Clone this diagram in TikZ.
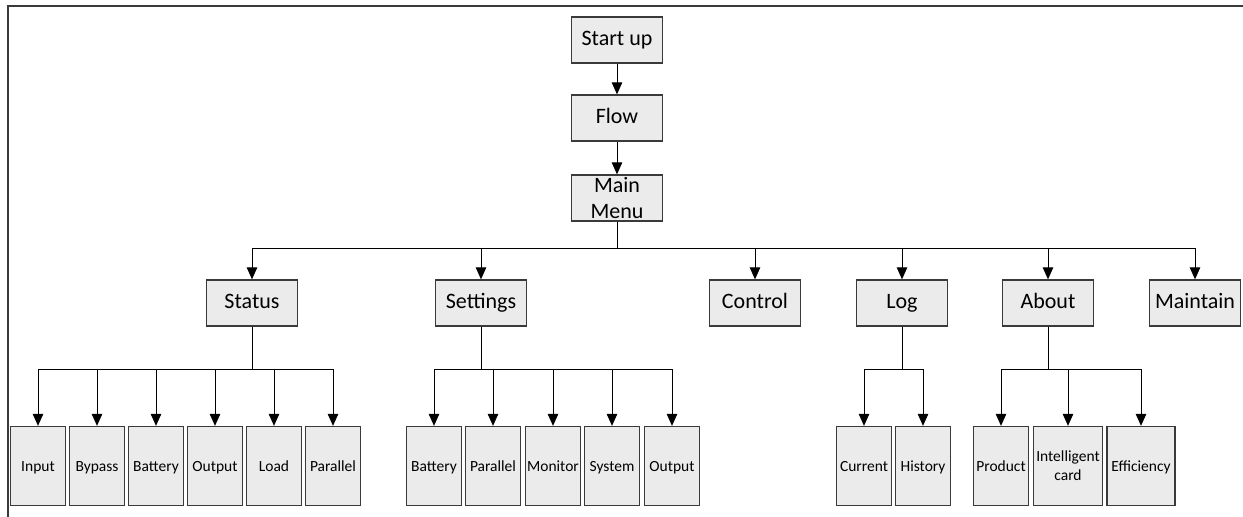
\documentclass[tikz,border=0pt]{standalone}
\usepackage{fontspec}
\setmainfont{Carlito}
\usetikzlibrary{arrows.meta}
\definecolor{boxfill}{HTML}{EBEBEB}
\definecolor{boxline}{HTML}{3A3A3A}
\tikzset{
  x=1pt, y=-1pt,
  lvlbase/.style={draw=boxline, line width=1.3pt, fill=boxfill, minimum width=91pt, minimum height=46pt, inner sep=0pt, font=\fontsize{22}{26}\selectfont, align=center},
  lvl/.style={lvlbase, text height=16pt, text depth=5pt},
  leafbase/.style={draw=boxline, line width=1.3pt, fill=boxfill, minimum width=55pt, minimum height=79pt, inner sep=0pt, font=\fontsize{15.5}{19}\selectfont, align=center},
  leaf/.style={leafbase, text height=13pt, text depth=1.5pt},
  conn/.style={line width=1pt, black},
  arr/.style={conn, -{Triangle[length=12pt, width=10.5pt]}},
}
\begin{document}
\begin{tikzpicture}
\useasboundingbox (0,0) rectangle (1243,517);
\draw[line width=2pt, boxline] (8,517) -- (8,6) -- (1243,6);
% top chain
\node[lvl] (start) at (617,40) {Start up};
\node[lvl] (flow) at (617,118) {Flow};
\node[lvlbase] (main) at (617,198) {Main\\Menu};
\draw[arr] (start) -- (flow);
\draw[arr] (flow) -- (main);
% level 2
\node[lvl] (status) at (252,303) {Status};
\node[lvl] (settings) at (481,303) {Settings};
\node[lvl] (control) at (755,303) {Control};
\node[lvl] (log) at (902,303) {Log};
\node[lvl] (about) at (1048,303) {About};
\node[lvl] (maintain) at (1195,303) {Maintain};
\coordinate (bus1) at (617,248);
\draw[conn] (main.south) -- (bus1);
\draw[conn] (status.north |- bus1) -- (maintain.north |- bus1);
\foreach \n in {status,settings,control,log,about,maintain}
  \draw[arr] (\n.north |- bus1) -- (\n.north);
% status leaves
\node[leaf] (s1) at (38,466) {Input};
\node[leaf] (s2) at (97,466) {Bypass};
\node[leaf] (s3) at (156,466) {Battery};
\node[leaf] (s4) at (215,466) {Output};
\node[leaf] (s5) at (274,466) {Load};
\node[leaf] (s6) at (333,466) {Parallel};
\coordinate (bs) at (252,369);
\draw[conn] (status.south) -- (bs);
\draw[conn] (s1.north |- bs) -- (s6.north |- bs);
\foreach \n in {s1,s2,s3,s4,s5,s6}
  \draw[arr] (\n.north |- bs) -- (\n.north);
% settings leaves
\node[leaf] (t1) at (434,466) {Battery};
\node[leaf] (t2) at (493,466) {Parallel};
\node[leaf] (t3) at (553,466) {Monitor};
\node[leaf] (t4) at (612,466) {System};
\node[leaf] (t5) at (672,466) {Output};
\coordinate (bt) at (481,369);
\draw[conn] (settings.south) -- (bt);
\draw[conn] (t1.north |- bt) -- (t5.north |- bt);
\foreach \n in {t1,t2,t3,t4,t5}
  \draw[arr] (\n.north |- bt) -- (\n.north);
% log leaves
\node[leaf] (l1) at (864,466) {Current};
\node[leaf] (l2) at (923,466) {History};
\coordinate (bl) at (902,369);
\draw[conn] (log.south) -- (bl);
\draw[conn] (l1.north |- bl) -- (l2.north |- bl);
\foreach \n in {l1,l2}
  \draw[arr] (\n.north |- bl) -- (\n.north);
% about leaves
\node[leaf] (a1) at (1001,466) {Product};
\node[leafbase, minimum width=69pt] (a2) at (1068,466) {Intelligent\\card};
\node[leaf, minimum width=68pt] (a3) at (1141,466) {Efficiency};
\coordinate (ba) at (1048,369);
\draw[conn] (about.south) -- (ba);
\draw[conn] (a1.north |- ba) -- (a3.north |- ba);
\foreach \n in {a1,a2,a3}
  \draw[arr] (\n.north |- ba) -- (\n.north);
\end{tikzpicture}
\end{document}
